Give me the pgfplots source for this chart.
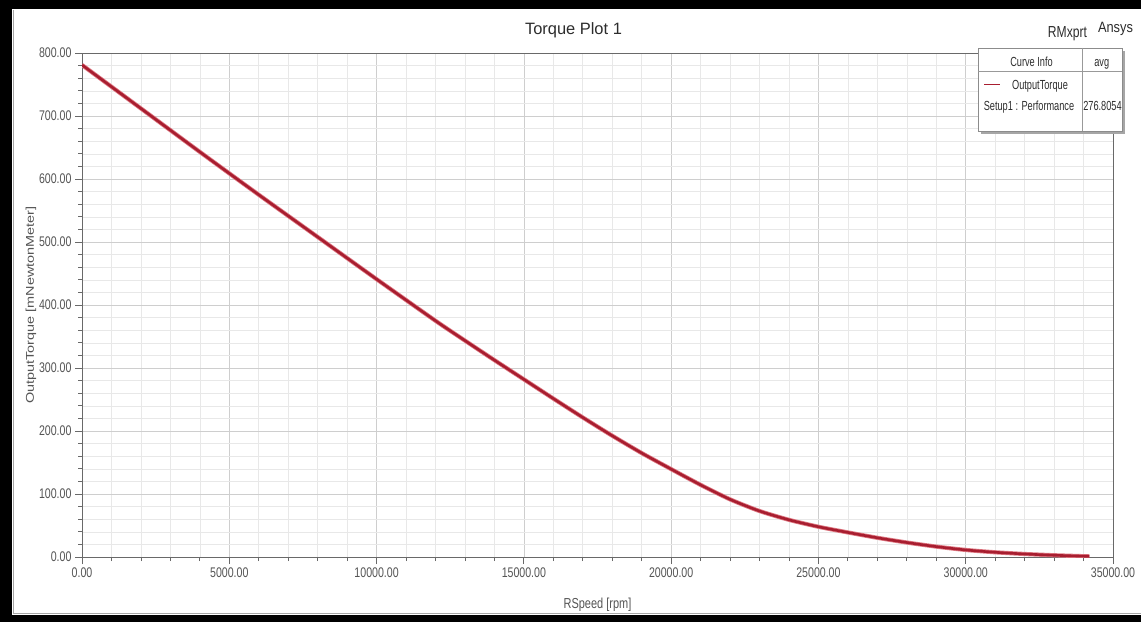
\documentclass[border=0pt]{standalone}
\usepackage{pgfplots}
\usepackage{pgfplotstable}
\pgfplotsset{compat=1.18}
\usepackage{fontspec}
\setmainfont{Liberation Sans}
\newfontfamily\narrowfont{Liberation Sans}[FakeStretch=0.76]
\newfontfamily\legfont{Liberation Sans}[FakeStretch=0.70]

\definecolor{torque}{RGB}{168,30,48}
\definecolor{torquehalo}{RGB}{222,120,130}
\definecolor{gridmajor}{RGB}{206,206,206}
\definecolor{gridminor}{RGB}{232,232,232}
\definecolor{axisgray}{RGB}{105,105,105}
\definecolor{labelgray}{RGB}{85,85,85}
\definecolor{titlegray}{RGB}{45,45,45}

% RSpeed [rpm] vs OutputTorque [mNewtonMeter]
\pgfplotstableread{
speed torque
0     781
2000  712
4000  643
6000  575
8000  508
10000 441
12000 375
13000 343.5
14000 312.5
15000 282
16000 251.5
17000 221.5
18000 192.5
19000 165
20000 139.5
21000 114.5
22000  91.5
23000  73
24000  59
25000  48
26000  39
27000  30.5
28000  23
29000  16.5
30000  11.2
31000   7.5
32000   4.8
33000   2.8
34000   1.3
34200   1.1
}\torquedata

\begin{document}
\begin{tikzpicture}[x=1bp,y=1bp]
\useasboundingbox (0,0) rectangle (1141,-622);
\fill[white] (0,0) rectangle (1141,-622);

\begin{axis}[
  at={(82bp,-557bp)}, anchor=south west,
  width=1031bp, height=504bp, scale only axis,
  xmin=0, xmax=35000, ymin=0, ymax=800,
  xtick distance=5000, ytick distance=100,
  minor x tick num=4, minor y tick num=4,
  grid=both,
  major grid style={gridmajor, line width=0.7bp},
  minor grid style={gridminor, line width=0.6bp},
  axis line style={axisgray, line width=1bp},
  xtick pos=bottom, ytick pos=left,
  tick align=outside,
  major tick length=7bp, minor tick length=4bp,
  every tick/.style={axisgray, line width=0.8bp},
  scaled ticks=false,
  xticklabel style={font=\narrowfont\fontsize{14}{14}\selectfont, text=labelgray},
  yticklabel style={font=\narrowfont\fontsize{14}{14}\selectfont, text=labelgray},
  /pgf/number format/.cd, fixed, fixed zerofill, precision=2, 1000 sep={}, assume math mode=true,
]
\addplot[torquehalo, line width=4.2bp, smooth, tension=0.4] table[x=speed, y=torque] {\torquedata};
\addplot[torque, line width=2.6bp, smooth, tension=0.4] table[x=speed, y=torque] {\torquedata};
\end{axis}

% titles and axis labels
\node[anchor=base, text=titlegray, font=\fontsize{16.5}{16.5}\selectfont] at (573.5,-34.5) {Torque Plot 1};
\node[anchor=base, text=titlegray, font=\narrowfont\fontsize{16}{16}\selectfont] at (1067.5,-38) {RMxprt};
\node[anchor=base, text=titlegray, font=\legfont\fontsize{15}{15}\selectfont] at (1115.5,-33) {\addfontfeature{FakeStretch=0.86}Ansys};
\node[anchor=base, text=labelgray, font=\narrowfont\fontsize{14.5}{14.5}\selectfont] at (597.5,-608.3) {RSpeed [rpm]};
\node[rotate=90, text=labelgray, font=\fontsize{14.5}{14.5}\selectfont] at (31,-305) {\scalebox{1}[0.78]{OutputTorque [mNewtonMeter]}};

% curve info box
\fill[black!35] (981,-51) rectangle (1125,-134);
\filldraw[fill=white, draw=black!45, line width=0.8bp] (978,-48) rectangle (1122,-131);
\draw[black!40, line width=0.6bp] (978,-71) -- (1122,-71);
\draw[black!40, line width=0.6bp] (1082,-48) -- (1082,-131);
\draw[torque, line width=1.6bp] (984,-84.5) -- (1000,-84.5);
\begin{scope}[every node/.style={anchor=base, text=titlegray, font=\legfont\fontsize{13.2}{13.2}\selectfont, inner sep=0pt}]
\node at (1031.5,-66.5) {Curve Info};
\node at (1101.7,-66.5) {avg};
\node at (1040,-90) {OutputTorque};
\node at (1029,-111) {Setup1 : Performance};
\node at (1102.5,-111) {276.8054};
\end{scope}

% frame
\fill[black] (0,0) rectangle (1141,-9.5);
\fill[black] (0,0) rectangle (12,-622);
\fill[black] (0,-614.5) rectangle (1141,-622);
\draw[black!35, line width=0.8bp] (13,-10) -- (13,-613.5) -- (1141,-613.5);
\end{tikzpicture}
\end{document}
